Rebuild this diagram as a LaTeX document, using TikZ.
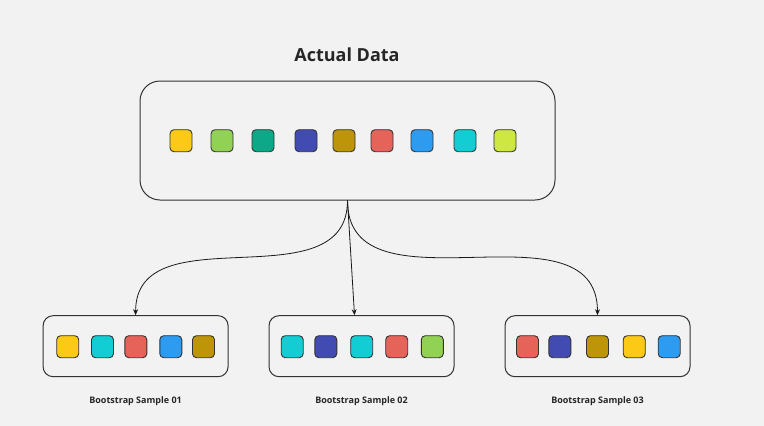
\documentclass[tikz,border=0pt]{standalone}
\usepackage{fontspec}
\setmainfont{Open Sans}
\usetikzlibrary{positioning,arrows.meta,calc}
\definecolor{paper}{HTML}{F2F2F2}
\definecolor{edge}{HTML}{333333}
\definecolor{cyel}{HTML}{FCC916}
\definecolor{cgrn}{HTML}{91D254}
\definecolor{cteal}{HTML}{0DA888}
\definecolor{cind}{HTML}{414BB2}
\definecolor{cgold}{HTML}{BE9508}
\definecolor{cred}{HTML}{E6635A}
\definecolor{cblu}{HTML}{2D9BF0}
\definecolor{ccya}{HTML}{12CDD4}
\definecolor{clim}{HTML}{CEE741}

\begin{document}
\begin{tikzpicture}[
  x=1pt, y=-1pt,
  bigbox/.style={draw=edge, line width=1pt, rounded corners=20pt, minimum width=415pt, minimum height=119pt, inner sep=0pt},
  smallbox/.style={draw=edge, line width=1pt, rounded corners=10pt, minimum width=185pt, minimum height=61pt, inner sep=0pt},
  cell/.style={draw=edge, line width=0.9pt, fill=#1, rounded corners=4pt, minimum size=22pt, inner sep=0pt},
  title/.style={font=\bfseries\fontsize{18}{22}\selectfont, text=black!85},
  lbl/.style={font=\bfseries\fontsize{9}{11}\selectfont, text=black!85},
  arr/.style={-{Stealth[length=6pt,width=5pt]}, line width=0.8pt, black!90},
]
\useasboundingbox[fill=paper] (0,0) rectangle (764,426);

\node[title] (head) at (347,55) {Actual Data};
\node[bigbox] (actual) at (347.5,140.5) {};
\foreach \x/\c [count=\i] in {181/cyel, 222/cgrn, 263/cteal, 306/cind, 344/cgold, 382/cred, 422/cblu, 465/ccya, 505/clim}
  \node[cell=\c] (a\i) at (\x,140.7) {};

\node[smallbox] (s1) at (135.6,346.2) {};
\node[smallbox] (s2) at (361.5,346.2) {};
\node[smallbox] (s3) at (597.5,346.2) {};

\foreach \x/\c [count=\i] in {67.7/cyel, 102.5/ccya, 135.8/cred, 170.8/cblu, 203.5/cgold}
  \node[cell=\c] (p\i) at (\x,346.7) {};
\foreach \x/\c [count=\i] in {292.2/ccya, 325.8/cind, 361.7/ccya, 396.7/cred, 432.3/cgrn}
  \node[cell=\c] (q\i) at (\x,346.7) {};
\foreach \x/\c [count=\i] in {527.5/cred, 559.8/cind, 597.5/cgold, 634.2/cyel, 669.2/cblu}
  \node[cell=\c] (r\i) at (\x,346.7) {};

\node[lbl] (l1) at ($(s1.south)+(0,23.5)$) {Bootstrap Sample 01};
\node[lbl] (l2) at ($(s2.south)+(0,23.5)$) {Bootstrap Sample 02};
\node[lbl] (l3) at ($(s3.south)+(0,23.5)$) {Bootstrap Sample 03};

\draw[arr] (actual.south) to[out=-90, in=90, looseness=1.1] (s1.north);
\draw[arr] (actual.south) -- ([xshift=-7pt]s2.north);
\draw[arr] (actual.south) to[out=-90, in=90, looseness=1.1] (s3.north);
\end{tikzpicture}
\end{document}
